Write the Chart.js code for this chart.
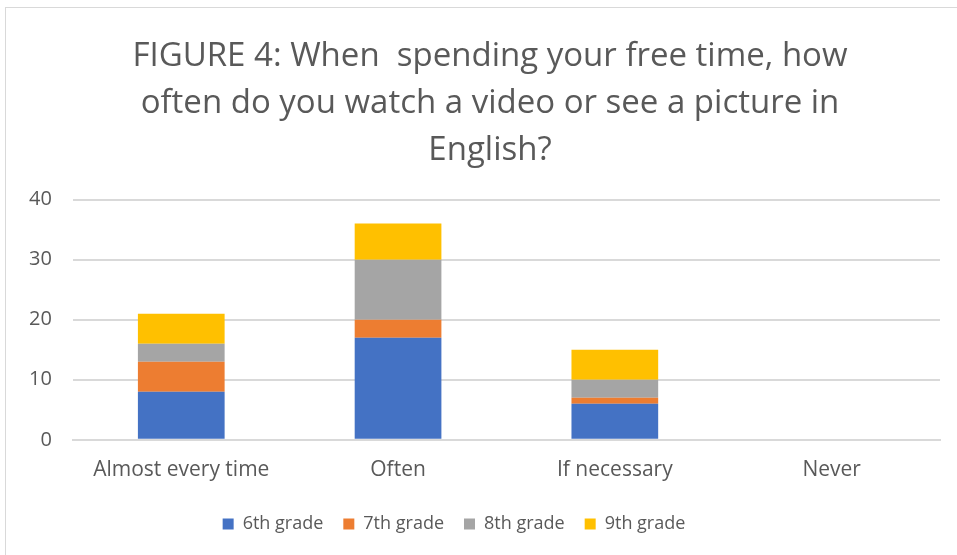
<!DOCTYPE html>
<html><head><meta charset="utf-8">
<script src="https://cdn.jsdelivr.net/npm/chart.js@4/dist/chart.umd.min.js"></script>
<style>
html,body{margin:0;padding:0;background:#fff;overflow:hidden;}
#frame{position:absolute;left:5px;top:7px;width:1000px;height:600px;border:1px solid #d9d9d9;box-sizing:border-box;}
#wrap{position:absolute;left:0;top:0;width:957px;height:555px;}
</style></head>
<body>
<div id="frame"></div>
<div id="wrap"><canvas id="c" width="957" height="555"></canvas></div>
<script>
const categories = ["Almost every time", "Often", "If necessary", "Never"];
const grade6 = [8, 17, 6, 0];
const grade7 = [5, 3, 1, 0];
const grade8 = [3, 10, 3, 0];
const grade9 = [5, 6, 5, 0];
const seriesNames = ["6th grade", "7th grade", "8th grade", "9th grade"];
const colors = ["#4472C4", "#ED7D31", "#A5A5A5", "#FFC000"];
const titleLines = ["FIGURE 4: When  spending your free time, how", "often do you watch a video or see a picture in", "English?"];

const font = "'Open Sans', sans-serif";
const shiftBoxes = {
  id: 'shiftBoxes',
  afterLayout(chart) {
    const t = chart.titleBlock;
    if (t) { t.left += 16; t.right += 16; }
    const l = chart.legend;
    if (l) {
      l.left -= 20; l.right -= 20; l.top += 2; l.bottom += 2;
      if (l.legendHitBoxes) l.legendHitBoxes.forEach(h => { h.left -= 20; h.top += 2; });
    }
  }
};
new Chart(document.getElementById('c'), {
  type: 'bar',
  data: {
    labels: categories,
    datasets: [grade6, grade7, grade8, grade9].map((d, i) => ({
      label: seriesNames[i], data: d, backgroundColor: colors[i],
      borderWidth: 0,
      barPercentage: 0.4, categoryPercentage: 1.0
    }))
  },
  plugins: [shiftBoxes],
  options: {
    responsive: false, animation: false,
    layout: { padding: { left: 8, right: 17, top: 20, bottom: 14 } },
    plugins: {
      title: { display: true, text: titleLines, color: '#595959',
        font: { family: font, size: 33, weight: 'normal', lineHeight: 1.42 }, padding: { top: 13, bottom: 26 } },
      legend: { position: 'bottom', labels: { color: '#595959', font: { family: font, size: 18 },
        boxWidth: 11, boxHeight: 11, padding: 20 } },
      tooltip: { enabled: false }
    },
    scales: {
      x: { stacked: true, grid: { display: false }, border: { color: '#d9d9d9', width: 2 },
        ticks: { color: '#595959', font: { family: font, size: 21 }, padding: 10 } },
      y: { stacked: true, min: 0, max: 40, grid: { color: '#d9d9d9', lineWidth: 2, drawTicks: false },
        border: { display: false },
        ticks: { stepSize: 10, color: '#595959', font: { family: font, size: 20 }, padding: 21 } }
    }
  }
});
</script>
</body></html>
